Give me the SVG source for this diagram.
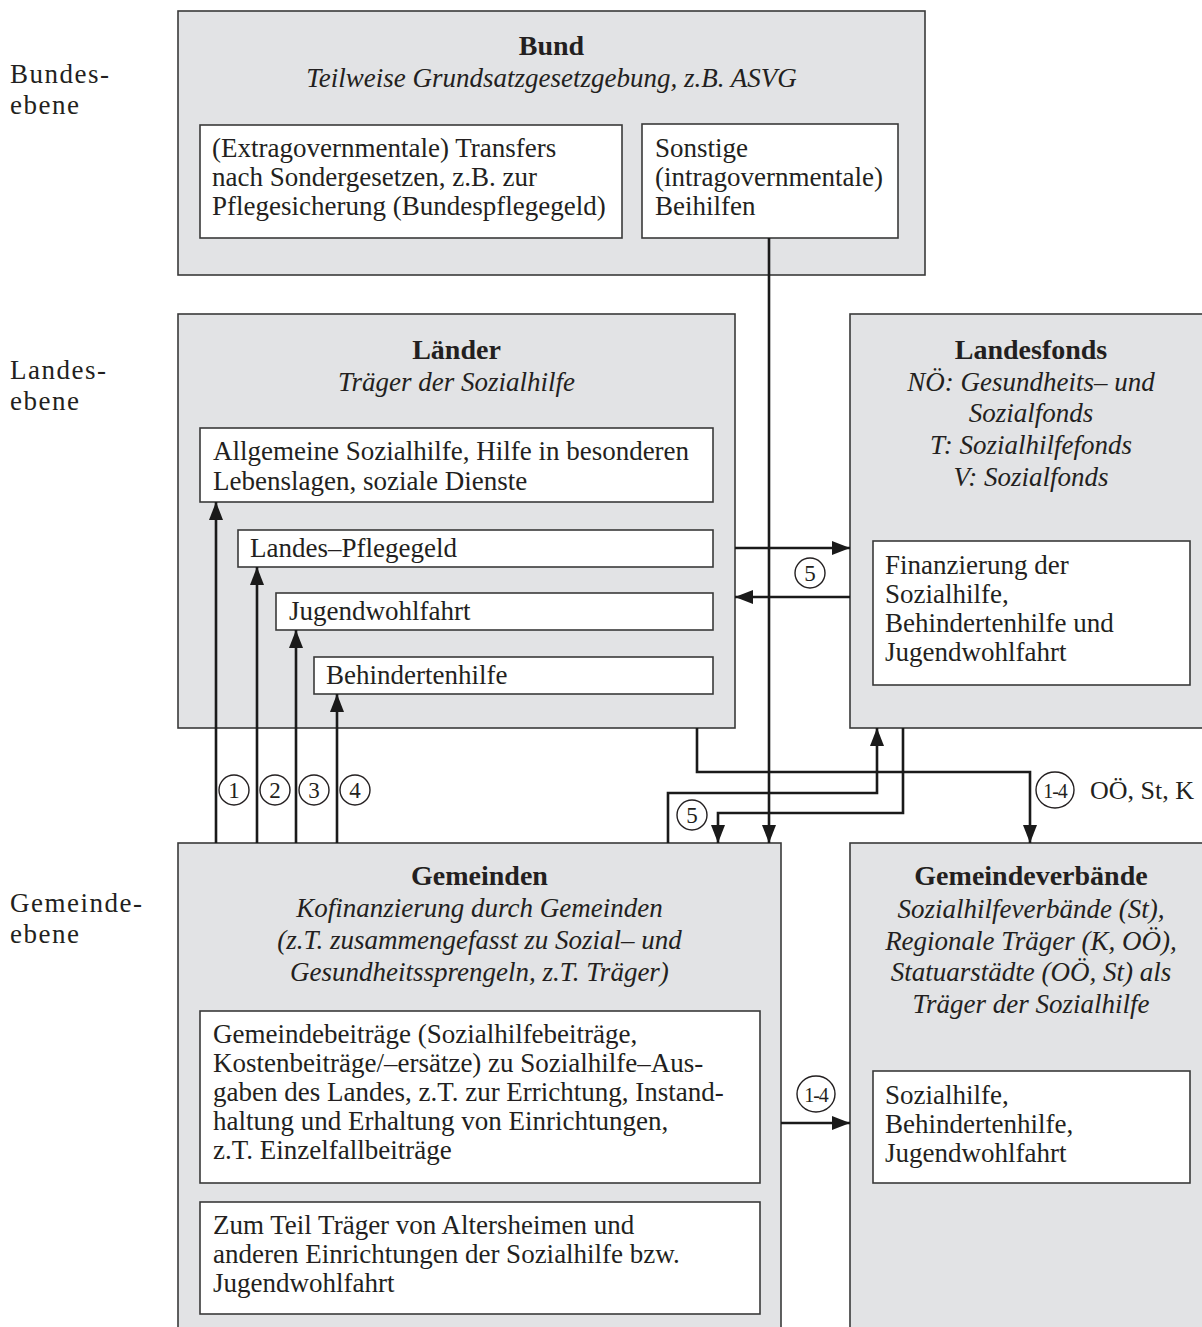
<svg xmlns="http://www.w3.org/2000/svg" width="1202" height="1327" viewBox="0 0 1202 1327">
<defs>
<style>
text { font-family: "Liberation Serif", "Times New Roman", serif; font-size: 27px; fill: #231f20; }
.outer { fill: #e2e3e5; stroke: #3a3a3a; stroke-width: 1.6; }
.inner { fill: #ffffff; stroke: #3a3a3a; stroke-width: 1.6; }
.title { font-weight: bold; font-size: 28px; text-anchor: middle; }
.ital { font-style: italic; text-anchor: middle; }
.lvl { letter-spacing: 1.5px; }
.conn path { fill: none; stroke: #1a1a1a; stroke-width: 2.6; }
.lab circle, .lab ellipse { fill: #ffffff; stroke: #231f20; stroke-width: 1.4; }
.lab text { font-size: 23px; text-anchor: middle; }
</style>
<marker id="ah" viewBox="0 0 18 14" refX="18" refY="7" markerWidth="18" markerHeight="14" markerUnits="userSpaceOnUse" orient="auto">
<path d="M0,0 L18,7 L0,14 z" fill="#1a1a1a"/>
</marker>
</defs>
<rect width="1202" height="1327" fill="#ffffff"/>

<g id="levels">
<text class="lvl" x="10" y="83">Bundes-</text>
<text class="lvl" x="10" y="114">ebene</text>
<text class="lvl" x="10" y="379">Landes-</text>
<text class="lvl" x="10" y="410">ebene</text>
<text class="lvl" x="10" y="912">Gemeinde-</text>
<text class="lvl" x="10" y="943">ebene</text>
</g>

<g id="bund">
<rect class="outer" x="178" y="11" width="747" height="264"/>
<text class="title" x="551.5" y="55">Bund</text>
<text class="ital" x="551.5" y="87">Teilweise Grundsatzgesetzgebung, z.B. ASVG</text>
<g id="bund-transfers">
<rect class="inner" x="200" y="125" width="422" height="113"/>
<text x="212" y="157">(Extragovernmentale) Transfers</text>
<text x="212" y="186">nach Sondergesetzen, z.B. zur</text>
<text x="212" y="215">Pflegesicherung (Bundespflegegeld)</text>
</g>
<g id="bund-beihilfen">
<rect class="inner" x="642" y="124" width="256" height="114"/>
<text x="655" y="157">Sonstige</text>
<text x="655" y="186">(intragovernmentale)</text>
<text x="655" y="215">Beihilfen</text>
</g>
</g>

<g id="laender">
<rect class="outer" x="178" y="314" width="557" height="414"/>
<text class="title" x="456.5" y="359">Länder</text>
<text class="ital" x="456.5" y="391">Träger der Sozialhilfe</text>
<g id="laender-allg">
<rect class="inner" x="200" y="428" width="513" height="74"/>
<text x="213" y="460">Allgemeine Sozialhilfe, Hilfe in besonderen</text>
<text x="213" y="490">Lebenslagen, soziale Dienste</text>
</g>
<g id="laender-pflege">
<rect class="inner" x="238" y="530" width="475" height="37"/>
<text x="250" y="557">Landes–Pflegegeld</text>
</g>
<g id="laender-jugend">
<rect class="inner" x="276" y="593" width="437" height="37"/>
<text x="289" y="620">Jugendwohlfahrt</text>
</g>
<g id="laender-behind">
<rect class="inner" x="314" y="657" width="399" height="37"/>
<text x="326" y="684">Behindertenhilfe</text>
</g>
</g>

<g id="landesfonds">
<rect class="outer" x="850" y="314" width="362" height="414"/>
<text class="title" x="1031" y="359">Landesfonds</text>
<text class="ital" x="1031" y="391">NÖ: Gesundheits– und</text>
<text class="ital" x="1031" y="422">Sozialfonds</text>
<text class="ital" x="1031" y="454">T: Sozialhilfefonds</text>
<text class="ital" x="1031" y="486">V: Sozialfonds</text>
<g id="landesfonds-fin">
<rect class="inner" x="873" y="541" width="317" height="144"/>
<text x="885" y="574">Finanzierung der</text>
<text x="885" y="603">Sozialhilfe,</text>
<text x="885" y="632">Behindertenhilfe und</text>
<text x="885" y="661">Jugendwohlfahrt</text>
</g>
</g>

<g id="gemeinden">
<rect class="outer" x="178" y="843" width="603" height="500"/>
<text class="title" x="479.5" y="885">Gemeinden</text>
<text class="ital" x="479.5" y="917">Kofinanzierung durch Gemeinden</text>
<text class="ital" x="479.5" y="949">(z.T. zusammengefasst zu Sozial– und</text>
<text class="ital" x="479.5" y="981">Gesundheitssprengeln, z.T. Träger)</text>
<g id="gemeinden-beitraege">
<rect class="inner" x="200" y="1011" width="560" height="172"/>
<text x="213" y="1043">Gemeindebeiträge (Sozialhilfebeiträge,</text>
<text x="213" y="1072">Kostenbeiträge/–ersätze) zu Sozialhilfe–Aus-</text>
<text x="213" y="1101">gaben des Landes, z.T. zur Errichtung, Instand-</text>
<text x="213" y="1130">haltung und Erhaltung von Einrichtungen,</text>
<text x="213" y="1159">z.T. Einzelfallbeiträge</text>
</g>
<g id="gemeinden-traeger">
<rect class="inner" x="200" y="1202" width="560" height="112"/>
<text x="213" y="1234">Zum Teil Träger von Altersheimen und</text>
<text x="213" y="1263">anderen Einrichtungen der Sozialhilfe bzw.</text>
<text x="213" y="1292">Jugendwohlfahrt</text>
</g>
</g>

<g id="gemeindeverbaende">
<rect class="outer" x="850" y="843" width="362" height="500"/>
<text class="title" x="1031" y="885">Gemeindeverbände</text>
<text class="ital" x="1031" y="918">Sozialhilfeverbände (St),</text>
<text class="ital" x="1031" y="950">Regionale Träger (K, OÖ),</text>
<text class="ital" x="1031" y="981">Statuarstädte (OÖ, St) als</text>
<text class="ital" x="1031" y="1013">Träger der Sozialhilfe</text>
<g id="gemeindeverbaende-aufg">
<rect class="inner" x="873" y="1071" width="317" height="112"/>
<text x="885" y="1104">Sozialhilfe,</text>
<text x="885" y="1133">Behindertenhilfe,</text>
<text x="885" y="1162">Jugendwohlfahrt</text>
</g>
</g>

<g id="connectors" class="conn">
<path d="M769,238 V843" marker-end="url(#ah)"/>
<path d="M735,548 H850" marker-end="url(#ah)"/>
<path d="M850,597 H735" marker-end="url(#ah)"/>
<path d="M697,728 V772 H1030 V843" marker-end="url(#ah)"/>
<path d="M668,843 V793 H877 V728" marker-end="url(#ah)"/>
<path d="M903,728 V813 H718 V843" marker-end="url(#ah)"/>
<path d="M216,843 V502" marker-end="url(#ah)"/>
<path d="M257,843 V567" marker-end="url(#ah)"/>
<path d="M296,843 V630" marker-end="url(#ah)"/>
<path d="M337,843 V694" marker-end="url(#ah)"/>
<path d="M781,1123 H850" marker-end="url(#ah)"/>
</g>

<g id="labels" class="lab">
<circle cx="234" cy="790" r="15"/><text x="234" y="798">1</text>
<circle cx="275" cy="790" r="15"/><text x="275" y="798">2</text>
<circle cx="314" cy="790" r="15"/><text x="314" y="798">3</text>
<circle cx="355" cy="790" r="15"/><text x="355" y="798">4</text>
<circle cx="810" cy="573" r="15"/><text x="810" y="581">5</text>
<circle cx="692" cy="815" r="15"/><text x="692" y="823">5</text>
<ellipse cx="1055" cy="790" rx="19" ry="18"/><text x="1055" y="798" style="font-size:20px;letter-spacing:-1px">1-4</text>
<ellipse cx="816" cy="1094" rx="19" ry="18"/><text x="816" y="1102" style="font-size:20px;letter-spacing:-1px">1-4</text>
<text x="1090" y="799" style="font-size:26px;text-anchor:start">OÖ, St, K</text>
</g>
</svg>
